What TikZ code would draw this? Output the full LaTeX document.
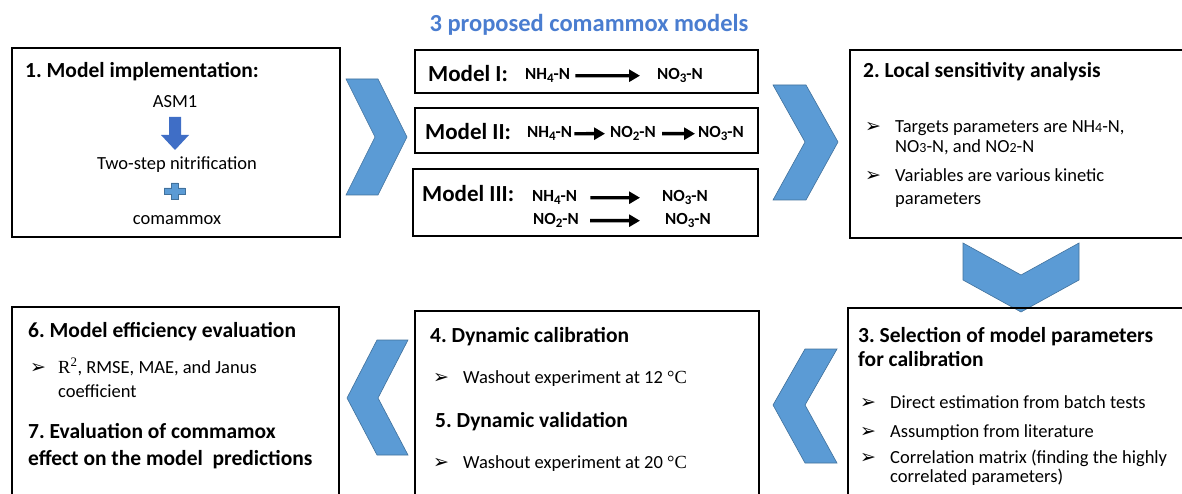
\documentclass[tikz,border=0pt]{standalone}
\usepackage{fontspec}
\setmainfont{Carlito}
\newfontfamily\symfont{DejaVu Sans}
\newfontfamily\serfont{Liberation Serif}
\usepackage{tikz}
\usetikzlibrary{arrows.meta}
\definecolor{chevblue}{HTML}{5B9BD5}
\definecolor{chevline}{HTML}{41719C}
\definecolor{titleblue}{HTML}{4A7DD0}
\definecolor{arrowblue}{HTML}{3F6EC6}
\tikzset{>=latex}
\tikzset{
  frame/.style={line width=2.6pt},
  modframe/.style={line width=2.4pt},
  chevron/.style={fill=chevblue, draw=chevline, line width=0.6pt},
  head/.style={anchor=base west, inner sep=0pt, font=\fontsize{21.5}{24}\selectfont\bfseries},
  body/.style={anchor=base west, inner sep=0pt, font=\fontsize{18.5}{22}\selectfont},
  chem/.style={anchor=base west, inner sep=0pt, font=\fontsize{17}{20}\selectfont\bfseries},
  modlabel/.style={anchor=base west, inner sep=0pt, font=\fontsize{23}{26}\selectfont\bfseries},
  chemarrow/.style={-{Triangle[length=11pt,width=12pt]}, line width=3.4pt},
}
\newcommand{\bul}{\makebox[30pt][l]{\symfont\fontsize{19}{20}\selectfont ➢}}
\newcommand{\sm}[1]{{\fontsize{14}{16}\selectfont #1}}
\newcommand{\sub}[1]{\raisebox{-0.3ex}{\fontsize{13}{14}\selectfont #1}}
\newcommand{\degc}{{\serfont °C}}
\frenchspacing

\begin{document}
\begin{tikzpicture}[x=1pt, y=-1pt]
  \useasboundingbox (0,0) rectangle (1182,494);

  \node[anchor=base, inner sep=0pt, text=titleblue, font=\fontsize{24.5}{27}\selectfont\bfseries] (title) at (589,32) {3 proposed comammox models};

  % step 1
  \draw[frame] (12,48) rectangle (340,237);
  \node[head] (impl) at (25,78) {1. Model implementation:};
  \node[body, anchor=base] (asm) at (175,108) {ASM1};
  \fill[arrowblue] (169,117) -- (181,117) -- (181,135) -- (189,135) -- (175,150) -- (161,135) -- (169,135) -- cycle;
  \node[body, anchor=base] (twostep) at (177,170) {Two-step nitrification};
  \filldraw[chevblue, draw=chevline, line width=0.4pt] (164,188) -- (171,188) -- (171,183) -- (178,183) -- (178,188) -- (185,188) -- (185,194) -- (178,194) -- (178,199) -- (171,199) -- (171,194) -- (164,194) -- cycle;
  \node[body, anchor=base] (coma) at (177,225) {comammox};

  \filldraw[chevron] (346,79) -- (378,79) -- (407,137) -- (378,195) -- (346,195) -- (375,137) -- cycle;

  % models
  \draw[modframe] (415,50) rectangle (758,93);
  \node[modlabel] (mI) at (428,82) {Model I:};
  \node[chem] (mIa) at (525,80) {NH\sub{4}-N};
  \node[chem] (mIb) at (657,80) {NO\sub{3}-N};
  \draw[chemarrow, shorten <=5pt, shorten >=17pt] (mIa.east) -- (mIb.west);

  \draw[modframe] (415,108) rectangle (758,153);
  \node[modlabel] (mII) at (425,140) {Model II:};
  \node[chem] (mIIa) at (527,138) {NH\sub{4}-N};
  \node[chem] (mIIb) at (610,138) {NO\sub{2}-N};
  \node[chem] (mIIc) at (698,138) {NO\sub{3}-N};
  \draw[chemarrow, shorten <=2pt, shorten >=5pt] (mIIa.east) -- (mIIb.west);
  \draw[chemarrow, shorten <=6pt, shorten >=3pt] (mIIb.east) -- (mIIc.west);

  \draw[modframe] (413,169) rectangle (758,236);
  \node[modlabel] (mIII) at (422,202) {Model III:};
  \node[chem] (mIIIa) at (532,202) {NH\sub{4}-N};
  \node[chem] (mIIIb) at (662,202) {NO\sub{3}-N};
  \node[chem] (mIIIc) at (533,225) {NO\sub{2}-N};
  \node[chem] (mIIId) at (665,225) {NO\sub{3}-N};
  \draw[chemarrow, shorten <=13pt, shorten >=22pt] (mIIIa.east) -- (mIIIb.west);
  \draw[chemarrow, shorten <=11pt, shorten >=25pt] (mIIIc.east) -- (mIIId.west);

  \filldraw[chevron] (773,85) -- (806,85) -- (838,142) -- (806,200) -- (773,200) -- (805,142) -- cycle;

  % step 2
  \draw[frame] (1183,50) -- (850,50) -- (850,238) -- (1183,238);
  \node[head] (sens) at (863,78) {2. Local sensitivity analysis};
  \node[body] (sensa) at (865,133) {\bul Targets parameters are NH\sm{4}-N,};
  \node[body] (sensb) at (895,153) {NO\sm{3}-N, and NO\sm{2}-N};
  \node[body] (sensc) at (865,182) {\bul Variables are various kinetic};
  \node[body] (sensd) at (895,205) {parameters};

  \filldraw[chevron] (963,243) -- (1021,275) -- (1079,243) -- (1079,280) -- (1021,312) -- (963,280) -- cycle;

  % step 3
  \draw[frame] (1183,308) -- (848,308) -- (848,495);
  \node[head] (sel) at (858,342) {3. Selection of model parameters};
  \node[head] (selb) at (858,366) {for calibration};
  \node[body] (sela) at (860,408) {\bul Direct estimation from batch tests};
  \node[body] (selc) at (860,437) {\bul Assumption from literature};
  \node[body] (seld) at (860,463) {\bul Correlation matrix (finding the highly};
  \node[body] (sele) at (890,482) {correlated parameters)};

  \filldraw[chevron] (837,349) -- (805,349) -- (773,405) -- (805,463) -- (837,463) -- (805,405) -- cycle;

  % steps 4 and 5
  \draw[frame] (415,495) -- (415,311) -- (759,311) -- (759,495);
  \node[head] (calib) at (430,342) {4. Dynamic calibration};
  \node[body] (caliba) at (433,383) {\bul Washout experiment at 12 \degc};
  \node[head] (valid) at (435,427) {5. Dynamic validation};
  \node[body] (valida) at (433,468) {\bul Washout experiment at 20 \degc};

  \filldraw[chevron] (408,340) -- (377,340) -- (347,398) -- (377,455) -- (408,455) -- (378,398) -- cycle;

  % steps 6 and 7
  \draw[frame] (12,495) -- (12,307) -- (339,307) -- (339,495);
  \node[head] (eff) at (28,337) {6. Model efficiency evaluation};
  \node[body] (effa) at (30,373) {\makebox[28pt][l]{\symfont\fontsize{19}{20}\selectfont ➢}{\serfont R\textsuperscript{2}}, RMSE, MAE, and Janus};
  \node[body] (effb) at (58,397) {coefficient};
  \node[head] (evl) at (28,438) {7. Evaluation of commamox};
  \node[head] (evlb) at (28,465) {effect on the model\ \ predictions};
\end{tikzpicture}
\end{document}
